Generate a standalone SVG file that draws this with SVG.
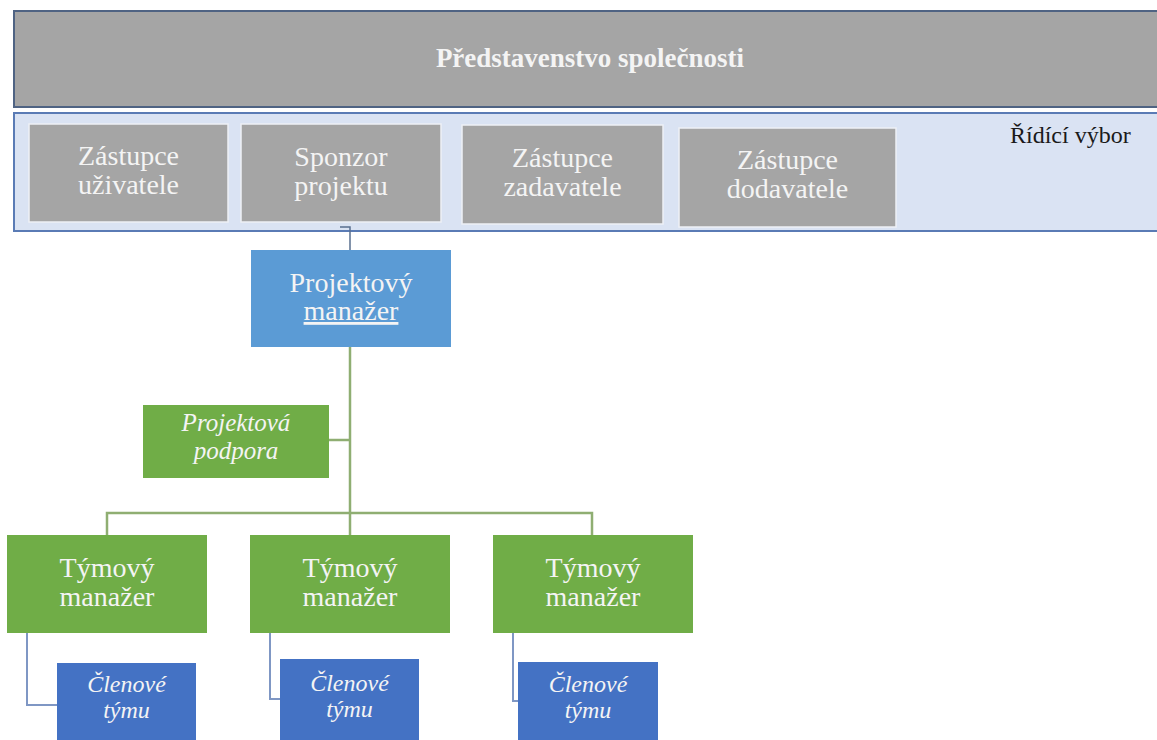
<svg xmlns="http://www.w3.org/2000/svg" width="1157" height="740" viewBox="0 0 1157 740">
  <style>
    text { font-family: "Liberation Serif", "DejaVu Serif", serif; }
    .lbl { fill: #f4f4f4; text-anchor: middle; }
    .reg { font-size: 28px; }
    .it { font-size: 25px; font-style: italic; }
    .its { font-size: 24px; font-style: italic; }
    .gray { fill: #a5a5a5; stroke: #eef1f6; stroke-width: 1.5; }
    .green { fill: #70ad47; }
    .blue { fill: #4472c4; }
    .conn-g { fill: none; stroke: #8fae72; stroke-width: 2.5; }
    .conn-b { fill: none; stroke: #7f97c4; stroke-width: 2; }
  </style>

  <rect width="1157" height="740" fill="#ffffff"/>

  <!-- Board of directors bar -->
  <g id="board">
    <rect x="14" y="11" width="1150" height="96" fill="#a5a5a5" stroke="#4f6383" stroke-width="2"/>
    <text class="lbl" x="590" y="67" font-size="27" font-weight="bold">Představenstvo společnosti</text>
  </g>

  <!-- Steering committee panel -->
  <g id="steering-committee">
    <rect x="14" y="113" width="1150" height="118" fill="#dae3f3" stroke="#5a7bb5" stroke-width="2"/>
    <text x="1010" y="143" font-size="24" fill="#1a1a1a">Řídící výbor</text>
  </g>

  <g id="user-rep">
    <rect class="gray" x="29" y="124" width="199" height="98"/>
    <text class="lbl reg" x="128.5" y="165">Zástupce</text>
    <text class="lbl reg" x="128.5" y="194">uživatele</text>
  </g>
  <g id="sponsor">
    <rect class="gray" x="241" y="124" width="200" height="98"/>
    <text class="lbl reg" x="341" y="166">Sponzor</text>
    <text class="lbl reg" x="341" y="195">projektu</text>
  </g>
  <g id="client-rep">
    <rect class="gray" x="462" y="125" width="201" height="99"/>
    <text class="lbl reg" x="562.5" y="167">Zástupce</text>
    <text class="lbl reg" x="562.5" y="196">zadavatele</text>
  </g>
  <g id="supplier-rep">
    <rect class="gray" x="679" y="128" width="217" height="99"/>
    <text class="lbl reg" x="787.5" y="169">Zástupce</text>
    <text class="lbl reg" x="787.5" y="198">dodavatele</text>
  </g>

  <!-- Connectors -->
  <g id="connectors">
    <path d="M340 227 H350 V250" fill="none" stroke="#5a7090" stroke-width="1.5"/>
    <path class="conn-g" d="M350 347 V513"/>
    <path class="conn-g" d="M329 440 H350"/>
    <path class="conn-g" d="M107 535 V513 H592 V535"/>
    <path class="conn-g" d="M350 513 V535"/>
    <path class="conn-b" d="M27 633 V705 H57" stroke="#3f5fa0"/>
    <path class="conn-b" d="M270 633 V699 H280"/>
    <path class="conn-b" d="M513 633 V701 H518"/>
  </g>

  <g id="project-manager">
    <rect x="251" y="250" width="200" height="97" fill="#5b9bd5"/>
    <text class="lbl reg" x="351" y="292">Projektový</text>
    <text class="lbl reg" x="351" y="320" text-decoration="underline">manažer</text>
  </g>

  <g id="project-support">
    <rect class="green" x="143" y="405" width="186" height="73"/>
    <text class="lbl it" x="236" y="431">Projektová</text>
    <text class="lbl it" x="236" y="459">podpora</text>
  </g>

  <g id="team-manager-1">
    <rect class="green" x="7" y="535" width="200" height="98"/>
    <text class="lbl reg" x="107" y="577">Týmový</text>
    <text class="lbl reg" x="107" y="606">manažer</text>
  </g>
  <g id="team-manager-2">
    <rect class="green" x="250" y="535" width="200" height="98"/>
    <text class="lbl reg" x="350" y="577">Týmový</text>
    <text class="lbl reg" x="350" y="606">manažer</text>
  </g>
  <g id="team-manager-3">
    <rect class="green" x="493" y="535" width="200" height="98"/>
    <text class="lbl reg" x="593" y="577">Týmový</text>
    <text class="lbl reg" x="593" y="606">manažer</text>
  </g>

  <g id="team-members-1">
    <rect class="blue" x="57" y="663" width="139" height="80"/>
    <text class="lbl its" x="126.5" y="692">Členové</text>
    <text class="lbl its" x="126.5" y="718">týmu</text>
  </g>
  <g id="team-members-2">
    <rect class="blue" x="280" y="659" width="139" height="84"/>
    <text class="lbl its" x="349.5" y="691">Členové</text>
    <text class="lbl its" x="349.5" y="717">týmu</text>
  </g>
  <g id="team-members-3">
    <rect class="blue" x="518" y="662" width="140" height="81"/>
    <text class="lbl its" x="588" y="692">Členové</text>
    <text class="lbl its" x="588" y="718">týmu</text>
  </g>
</svg>
